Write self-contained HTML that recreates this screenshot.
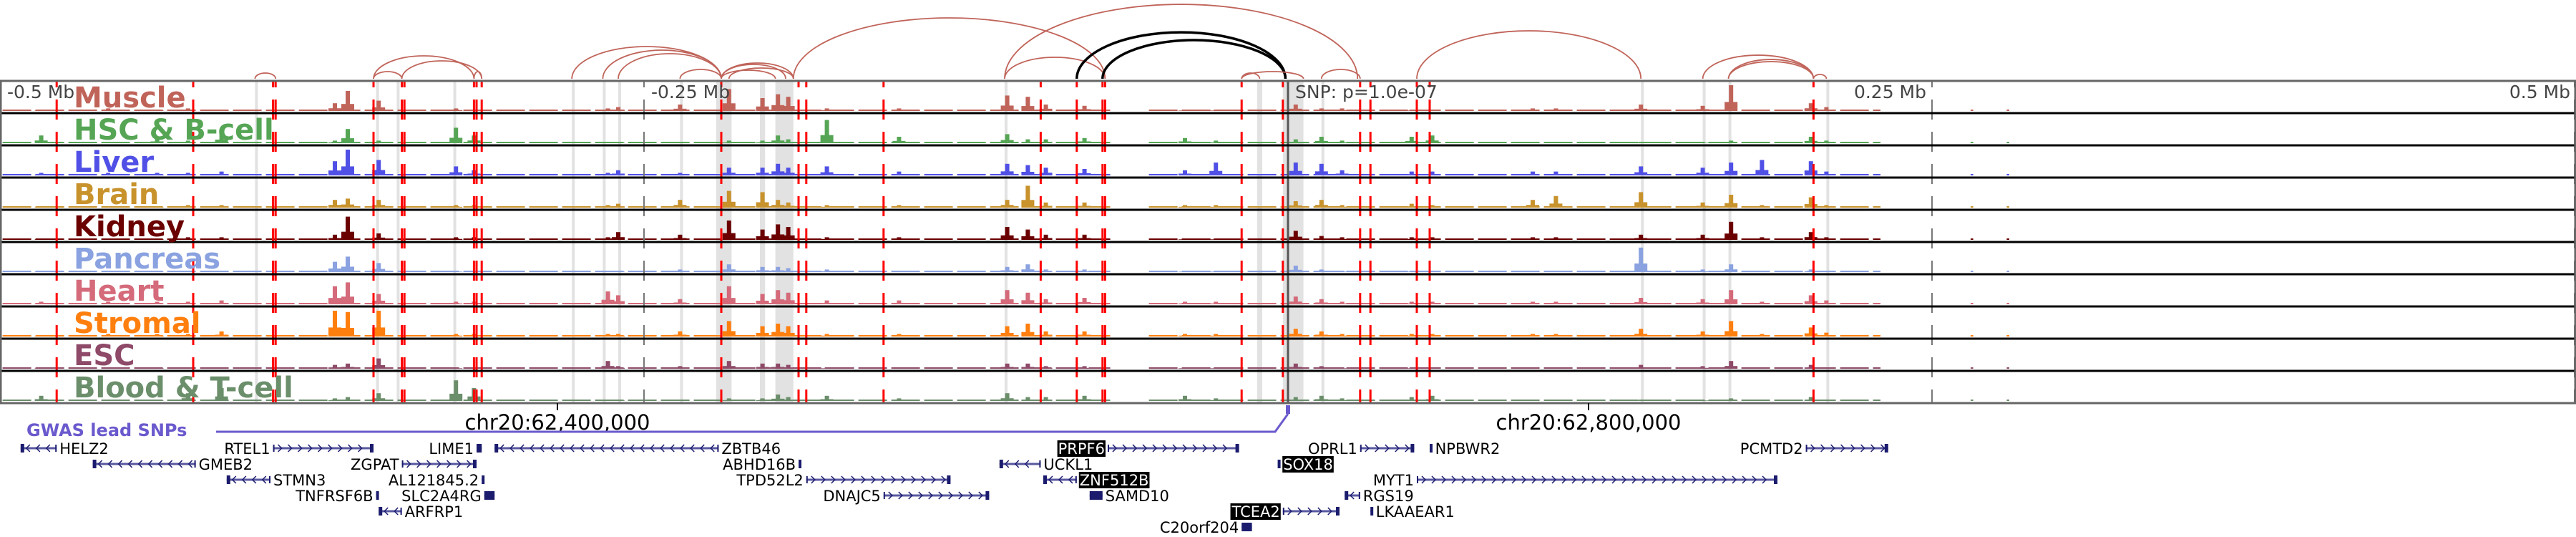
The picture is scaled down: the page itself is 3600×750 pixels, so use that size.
<!DOCTYPE html>
<html><head><meta charset="utf-8">
<style>
html,body{margin:0;padding:0;background:#fff;}
svg{display:block;font-family:"DejaVu Sans","Liberation Sans",sans-serif;}
</style></head>
<body>
<svg id="chart" width="3600" height="750" viewBox="0 0 3600 750" xmlns="http://www.w3.org/2000/svg">
<g id="bands"></g>
<g id="signals"></g>
<g id="redlines"></g>
<g id="frame"></g>
<g id="arcs"></g>
<g id="labels"></g>
<g id="genes"></g>
</svg>
<script>
// ---- data ----
const trackNames = ["Muscle","HSC & B-cell","Liver","Brain","Kidney","Pancreas","Heart","Stromal","ESC","Blood & T-cell"];
const trackColors = ["#c0645a","#55a555","#5050e6","#c8922c","#6b0000","#8aa2e0","#d46a7a","#ff7f0e","#8e4a68","#6b8e6b"];
// peak positions in kb relative to lead SNP
const peakKb = [-484,-458,-439,-427,-414,-370,-365,-353,-323,-316,-264,-260,-236,-217,-204,-198,-194,-179,-151,-109,-101,-94,-79,-40,-28,3,13,21,48,56,95,104,137,161,172,184,203,209];
const muscleVals  = [0,.1,.05,.1,.05,.3,.78,.4,.1,.05,.1,.15,.25,.85,.5,.65,.55,.1,.1,.6,.55,.25,.2,.05,.05,.25,.1,.1,.05,.05,.1,.1,.25,.2,1.0,.05,.3,.15];
const hscVals     = [.3,.05,.2,.1,.4,.1,.55,.1,.6,.3,.05,.05,.05,.1,.1,.3,.15,.9,.25,.35,.15,.15,.2,.2,.1,.15,.25,.1,.25,.3,.05,.05,.05,.05,.1,.05,.25,.1];
const liverVals   = [.1,.1,.1,.1,.15,.55,1.0,.6,.35,.2,.1,.2,.1,.3,.3,.45,.3,.35,.15,.45,.4,.3,.25,.2,.5,.5,.45,.2,.15,.15,.15,.15,.35,.3,.5,.6,.55,.15];
const brainVals   = [.05,.05,.05,.1,.1,.3,.35,.3,.1,.1,.1,.15,.3,.65,.6,.3,.2,.1,.1,.3,.85,.2,.2,.1,.1,.25,.3,.1,.15,.1,.3,.45,.6,.2,.5,.1,.4,.1];
const kidneyVals  = [.05,.05,.05,.1,.1,.2,.9,.25,.1,.1,.1,.3,.2,.75,.4,.6,.5,.1,.1,.5,.4,.2,.2,.05,.05,.35,.15,.1,.1,.1,.1,.1,.2,.2,.7,.1,.3,.1];
const pancVals    = [.05,.05,.05,.05,.05,.4,.6,.35,.05,.05,.05,.05,.1,.3,.2,.2,.15,.1,.05,.2,.3,.1,.1,.05,.05,.25,.1,.05,.05,.05,.05,.05,.95,.1,.3,.05,.1,.05];
const heartVals   = [.1,.1,.1,.1,.15,.7,.85,.4,.1,.1,.5,.35,.2,.7,.4,.55,.45,.15,.15,.55,.45,.2,.25,.1,.1,.3,.2,.1,.1,.1,.1,.1,.25,.2,.55,.1,.35,.15];
const stromalVals = [.05,.1,.1,.1,.2,1.0,.95,1.0,.1,.1,.1,.1,.2,.6,.4,.5,.4,.1,.1,.4,.5,.2,.2,.1,.1,.3,.2,.1,.1,.1,.1,.1,.3,.2,.6,.1,.35,.15];
const escVals     = [.05,.05,.05,.05,.05,.15,.2,.4,.05,.05,.3,.1,.1,.3,.2,.2,.15,.05,.05,.2,.2,.1,.1,.05,.05,.2,.1,.05,.05,.05,.05,.05,.15,.1,.3,.05,.15,.05];
const bloodVals   = [.2,.05,.05,.3,.5,.1,.15,.3,.8,.5,.05,.05,.05,.1,.1,.25,.15,.2,.1,.3,.15,.15,.2,.2,.1,.15,.2,.1,.15,.2,.05,.05,.05,.05,.1,.05,.15,.05];
const trackVals = [muscleVals,hscVals,liverVals,brainVals,kidneyVals,pancVals,heartVals,stromalVals,escVals,bloodVals];
// low-signal coverage ranges (kb)
const coverageKb = [[-499,-69],[-54,230],[265,266],[279,280]];
// highlighted regions (kb start,end)
const bandKb = [[-401,-400],[-354,-353],[-346,-345],[-324,-323],[-278,-277],[-266,-265],[-260,-259],[-236,-235],[-222,-216],[-205,-203],[-199,-192],[-110,-109],[-12,-10],[-2,6],[13,14],[137,138],[161,162],[171,172],[209,210]];
// fine-mapped variants (kb)
const variantKb = [-478,-425,-394,-393,-355,-344,-343,-316,-315,-313,-220,-190,-187,-157,-96,-82,-72,-71,-18,-2,28,32,50,55,204];
// arcs: anchor kb pairs and height
const arcStart = [-401,-355,-355,-344,-316,-278,-266,-260,-236,-220,-220,-220,-217,-192,-110,-110,-82,-72,-18,-18,13,50,161,171,171,204];
const arcEnd   = [-393,-344,-316,-313,-313,-220,-220,-220,-220,-199,-195,-192,-192,-71,27,-71,-1,-1,-11,6,28,137,204,204,204,209];
const arcTop   = [102,100,78,85,100,65,70,75,97,98,90,88,95,25,6,80,45,56,102,100,97,43,77,83,86,104];
const arcBlack = [0,0,0,0,0,0,0,0,0,0,0,0,0,0,0,0,1,1,0,0,0,0,0,0,0,0];
const axisTicks = [-500,-250,0,250,500];
const axisTickLabels = ["-0.5 Mb","-0.25 Mb","SNP: p=1.0e-07","0.25 Mb","0.5 Mb"];
// genes
const geneNames  = ["HELZ2","RTEL1","LIME1","ZBTB46","PRPF6","OPRL1","NPBWR2","PCMTD2","GMEB2","ZGPAT","ABHD16B","UCKL1","SOX18","STMN3","AL121845.2","TPD52L2","ZNF512B","MYT1","TNFRSF6B","SLC2A4RG","DNAJC5","SAMD10","RGS19","ARFRP1","TCEA2","LKAAEAR1","C20orf204"];
const geneStart  = [-492,-394,-315,-308,-70,28,55,201,-464,-344,-190,-112,-4,-412,-313,-187,-95,50,-354,-312,-157,-77,22,-353,-2,32,-18];
const geneEnd    = [-478,-355,-313,-221,-19,49,56,233,-424,-315,-189,-96,-3,-395,-312,-131,-82,190,-353,-308,-116,-72,28,-344,20,33,-14];
const geneRow    = [0,0,0,0,0,0,0,0,1,1,1,1,1,2,2,2,2,2,3,3,3,3,3,4,4,4,5];
const geneStrand = [-1,1,1,-1,1,1,1,1,-1,1,1,-1,1,-1,1,1,-1,1,1,1,1,1,-1,-1,1,1,1];
const geneHi     = [0,0,0,0,1,0,0,0,0,0,0,0,1,0,0,0,1,0,0,0,0,0,0,0,1,0,0];
const geneLabelLeft = [0,1,1,0,1,1,0,1,0,1,1,0,0,0,1,1,0,1,1,1,1,0,0,0,1,0,1];

// ---- scales ----
const X0=1800, PXKB=3.6;
const xs = kb => X0 + kb*PXKB;
const TOP=113, TH=45, NT=10, BOT=TOP+TH*NT;
const NS="http://www.w3.org/2000/svg";
function mk(tag, attrs, parent){const e=document.createElementNS(NS,tag);for(const k in attrs)e.setAttribute(k,attrs[k]);parent.appendChild(e);return e;}
const gB=document.getElementById('bands'),gS=document.getElementById('signals'),gR=document.getElementById('redlines'),gF=document.getElementById('frame'),gA=document.getElementById('arcs'),gL=document.getElementById('labels'),gG=document.getElementById('genes');

bandKb.forEach(b=>{
  const x1=xs(b[0]), w=Math.max(4,xs(b[1])-x1);
  const r=mk('rect',{x:x1,y:TOP,width:w,height:BOT-TOP,fill:'#e2e2e2'},gB);
  
  
});

axisTicks.forEach((t,i)=>{
  const x=Math.min(3598,Math.max(1,xs(t)));
  const l=mk('line',{x1:x,x2:x,y1:TOP,y2:BOT,stroke:i==2?'#555':'#777','stroke-width':i==2?3:2,'stroke-dasharray':i==2?'none':'28 17','stroke-dashoffset':-26},gF);
  
  
});

trackVals.forEach((vals,ti)=>{
  const bottom=TOP+TH*(ti+1)-3, col=trackColors[ti];
  const g=mk('g',{},gS);
  
  
  coverageKb.forEach(c=>{
    const l=mk('line',{x1:xs(c[0]),x2:xs(c[1]),y1:bottom-1,y2:bottom-1,stroke:col,'stroke-width':2,'stroke-dasharray':'40 6'},g);
    
    
  });
  vals.forEach((v,i)=>{
    const x=xs(peakKb[i]), h=Math.max(2,v*36);
    const r=mk('rect',{x:x-3,y:bottom-h,width:6,height:h,fill:col},g);
    
    
    const s=mk('rect',{x:x-9,y:bottom-h*0.35,width:18,height:h*0.35,fill:col},g);
    
    
  });
});

variantKb.forEach(v=>{
  const l=mk('line',{x1:xs(v),x2:xs(v),y1:TOP,y2:BOT,stroke:'#ff0000','stroke-width':3,'stroke-dasharray':'28 17','stroke-dashoffset':-26},gR);
  
  
});

for(let i=1;i<NT;i++){
  const l=mk('line',{x1:0,x2:3600,y1:TOP+TH*i,y2:TOP+TH*i,stroke:'#000','stroke-width':3},gF);
  
  
}
const fr=mk('rect',{x:1,y:TOP,width:3598,height:BOT-TOP,fill:'none',stroke:'#666','stroke-width':3},gF);



arcStart.forEach((s,i)=>{
  const x1=xs(s),x2=xs(arcEnd[i]),y0=110,rx=(x2-x1)/2,ry=y0-arcTop[i];
  const p=mk('path',{d:`M${x1} ${y0} A${rx} ${ry} 0 0 1 ${x2} ${y0}`,fill:'none',stroke:arcBlack[i]?'#000':'#c0645a','stroke-width':arcBlack[i]?3.5:1.8},gA);
  
  
});

axisTicks.forEach((t,i)=>{
  let x=xs(t), anchor='start';
  if(i==0)x=10; else if(i==1||i==2)x+=10; else {x-=8;anchor='end';}
  const tx=mk('text',{x:x,y:137,'font-size':25,fill:'#444','text-anchor':anchor},gL);
  tx.textContent=axisTickLabels[i];
  
  
});

trackNames.forEach((n,i)=>{
  const t=mk('text',{x:103,y:TOP+TH*i+37,'font-size':40,'font-weight':'bold',fill:trackColors[i]},gL);
  t.textContent=n;
  
  
});

[[779,"chr20:62,400,000"],[2220,"chr20:62,800,000"]].forEach(c=>{
  const l=mk('line',{x1:c[0],x2:c[0],y1:BOT,y2:573,stroke:'#000','stroke-width':2},gF);
  
  
  const t=mk('text',{x:c[0],y:600,'font-size':29,'text-anchor':'middle',fill:'#000'},gL);
  t.textContent=c[1];
  
  
});

const gw=mk('text',{x:37,y:609,'font-size':24,'font-weight':'bold',fill:'#6a5acd'},gG);
gw.textContent="GWAS lead SNPs";


const gl=mk('path',{d:`M302 603 L1782 603 L${xs(0)} 578`,fill:'none',stroke:'#6a5acd','stroke-width':3},gG);


const gm=mk('rect',{x:xs(0)-3,y:566,width:6,height:12,fill:'#6a5acd'},gG);



const NAVY='#1c1c6e';
geneNames.forEach((n,i)=>{
  const y=626+geneRow[i]*22, x1=xs(geneStart[i]), x2=xs(geneEnd[i]);
  const g=mk('g',{},gG);
  
  
  mk('line',{x1:x1,x2:x2,y1:y,y2:y,stroke:'#5858a0','stroke-width':3},g);
  const w=x2-x1;
  if(w>20){
    for(let cx=x1+10;cx<x2-6;cx+=14){
      const d=geneStrand[i]>0?`M${cx-3} ${y-5} L${cx+2} ${y} L${cx-3} ${y+5}`:`M${cx+3} ${y-5} L${cx-2} ${y} L${cx+3} ${y+5}`;
      mk('path',{d:d,fill:'none',stroke:NAVY,'stroke-width':1.5},g);
    }
    const ex=geneStrand[i]>0?x2-5:x1;
    mk('rect',{x:ex,y:y-6,width:5,height:12,fill:NAVY},g);
    mk('rect',{x:geneStrand[i]>0?x1:x2-2,y:y-5,width:2,height:10,fill:NAVY},g);
  } else {
    mk('rect',{x:x1,y:y-6,width:Math.max(4,w),height:12,fill:NAVY},g);
  }
  const left=geneLabelLeft[i];
  const tx=left?x1-4:x2+4;
  const t=mk('text',{x:tx,y:y+8,'font-size':21,'text-anchor':left?'end':'start',fill:geneHi[i]?'#fff':'#000'},g);
  t.textContent=n;
  if(geneHi[i]){
    const bb=t.getBBox();
    const r=document.createElementNS(NS,'rect');
    r.setAttribute('x',bb.x-1);r.setAttribute('y',y-11);r.setAttribute('width',bb.width+2);r.setAttribute('height',23);r.setAttribute('fill','#000');
    g.insertBefore(r,t);
  }
});
</script>
</body></html>
